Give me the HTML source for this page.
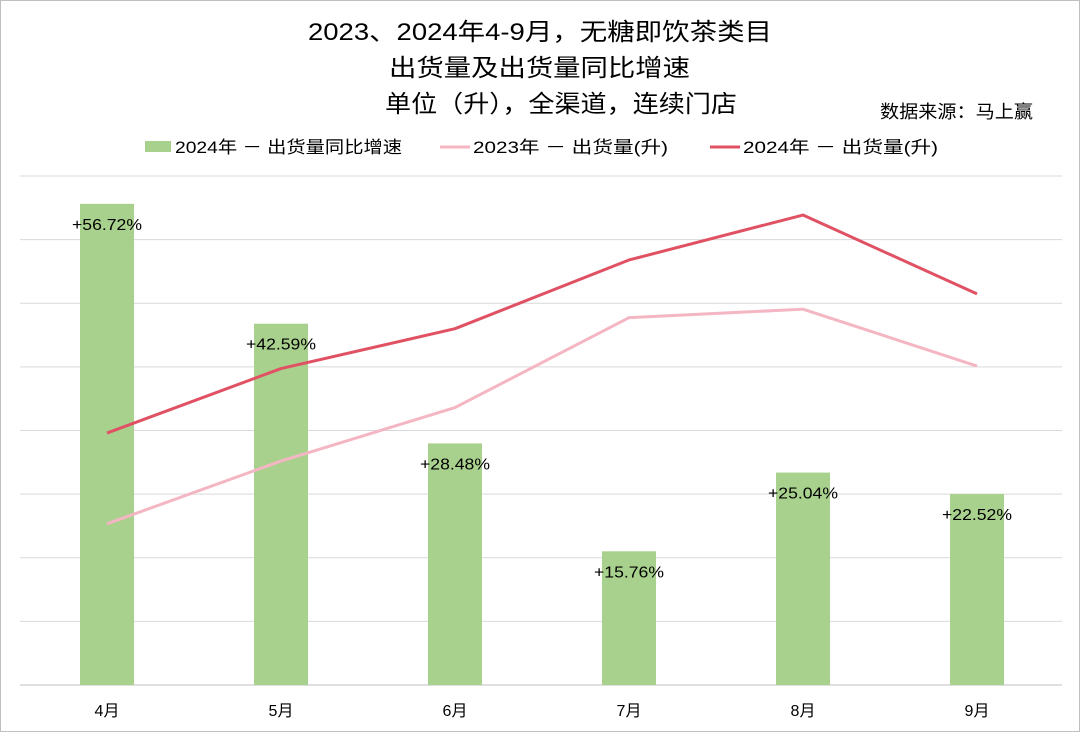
<!DOCTYPE html>
<html><head><meta charset="utf-8"><style>
body{margin:0;background:#fff;}
svg{display:block;font-family:"Liberation Sans","Noto Sans CJK SC",sans-serif;}
</style></head><body>
<svg id="chart" width="1080" height="732">
<rect x="0.5" y="0.5" width="1079" height="731" fill="#fff" stroke="#bfbfbf"/>
<g font-size="24" fill="#000">
<text x="308" y="40" textLength="464" lengthAdjust="spacingAndGlyphs">2023、2024年4-9月，无糖即饮茶类目</text>
<text x="389" y="76" textLength="301" lengthAdjust="spacingAndGlyphs">出货量及出货量同比增速</text>
<text x="385" y="112" textLength="352" lengthAdjust="spacingAndGlyphs">单位（升），全渠道，连续门店</text>
</g>
<text x="880" y="118" font-size="18" textLength="153" lengthAdjust="spacingAndGlyphs">数据来源：马上赢</text>
<g font-size="17" fill="#000">
<g><rect x="145" y="141" width="26" height="11" fill="#a9d18e"/><text x="175" y="153" textLength="227" lengthAdjust="spacingAndGlyphs">2024年 － 出货量同比增速</text></g>
<g><line x1="440" y1="147" x2="470" y2="147" stroke="#f4b6c2" stroke-width="3"/><text x="473" y="153" textLength="195" lengthAdjust="spacingAndGlyphs">2023年 －  出货量(升)</text></g>
<g><line x1="710" y1="147" x2="740" y2="147" stroke="#e05263" stroke-width="3"/><text x="743" y="153" textLength="195" lengthAdjust="spacingAndGlyphs">2024年 －  出货量(升)</text></g>
</g>
<g id="grid"></g><g id="bars"></g><g id="lines"></g><g id="labels"></g><g id="xaxis"></g>
</svg>
<script>
const categories=["4月","5月","6月","7月","8月","9月"];
const growth2024=[56.72,42.59,28.48,15.76,25.04,22.52];
const volume2023=[19.0,26.4,32.7,43.3,44.3,37.6];
const volume2024=[29.7,37.3,42.0,50.1,55.4,46.1];
const yTicks=[0,7.5,15,22.5,30,37.5,45,52.5,60];
const NS="http://www.w3.org/2000/svg";
const L=20,R=1064,T=176,B=685,YMAX=60;
const bw=(R-L)/categories.length;
const x=i=>L+bw*(i+0.5);
const y=v=>B-(v/YMAX)*(B-T);
function mk(tag,attrs,parent){const e=document.createElementNS(NS,tag);for(const k in attrs)e.setAttribute(k,attrs[k]);document.getElementById(parent).appendChild(e);return e;}
yTicks.forEach((t,i)=>{const g=mk('line',{x1:L,x2:1062,y1:y(t),y2:y(t),stroke:i==0?'#bfbfbf':'#d9d9d9','stroke-width':1},'grid');

});
growth2024.forEach((v,i)=>{const r=mk('rect',{x:x(i)-27,y:y(v),width:54,height:B-y(v),fill:'#a9d18e'},'bars');


const t=mk('text',{x:x(i)-35,y:y(v)+26,'font-size':16,textLength:70,lengthAdjust:'spacingAndGlyphs'},'labels');t.textContent='+'+v.toFixed(2)+'%';


const c=mk('text',{x:x(i),y:716,'font-size':16,'text-anchor':'middle'},'xaxis');c.textContent=categories[i];

});
function line(data,color,name){const p=mk('polyline',{points:data.map((v,i)=>x(i)+','+y(v)).join(' '),fill:'none',stroke:color,'stroke-width':3,'stroke-linejoin':'round'},'lines');

}
line(volume2023,'#f4b6c2','line-volume-2023');
line(volume2024,'#e05263','line-volume-2024');
</script>
</body></html>
